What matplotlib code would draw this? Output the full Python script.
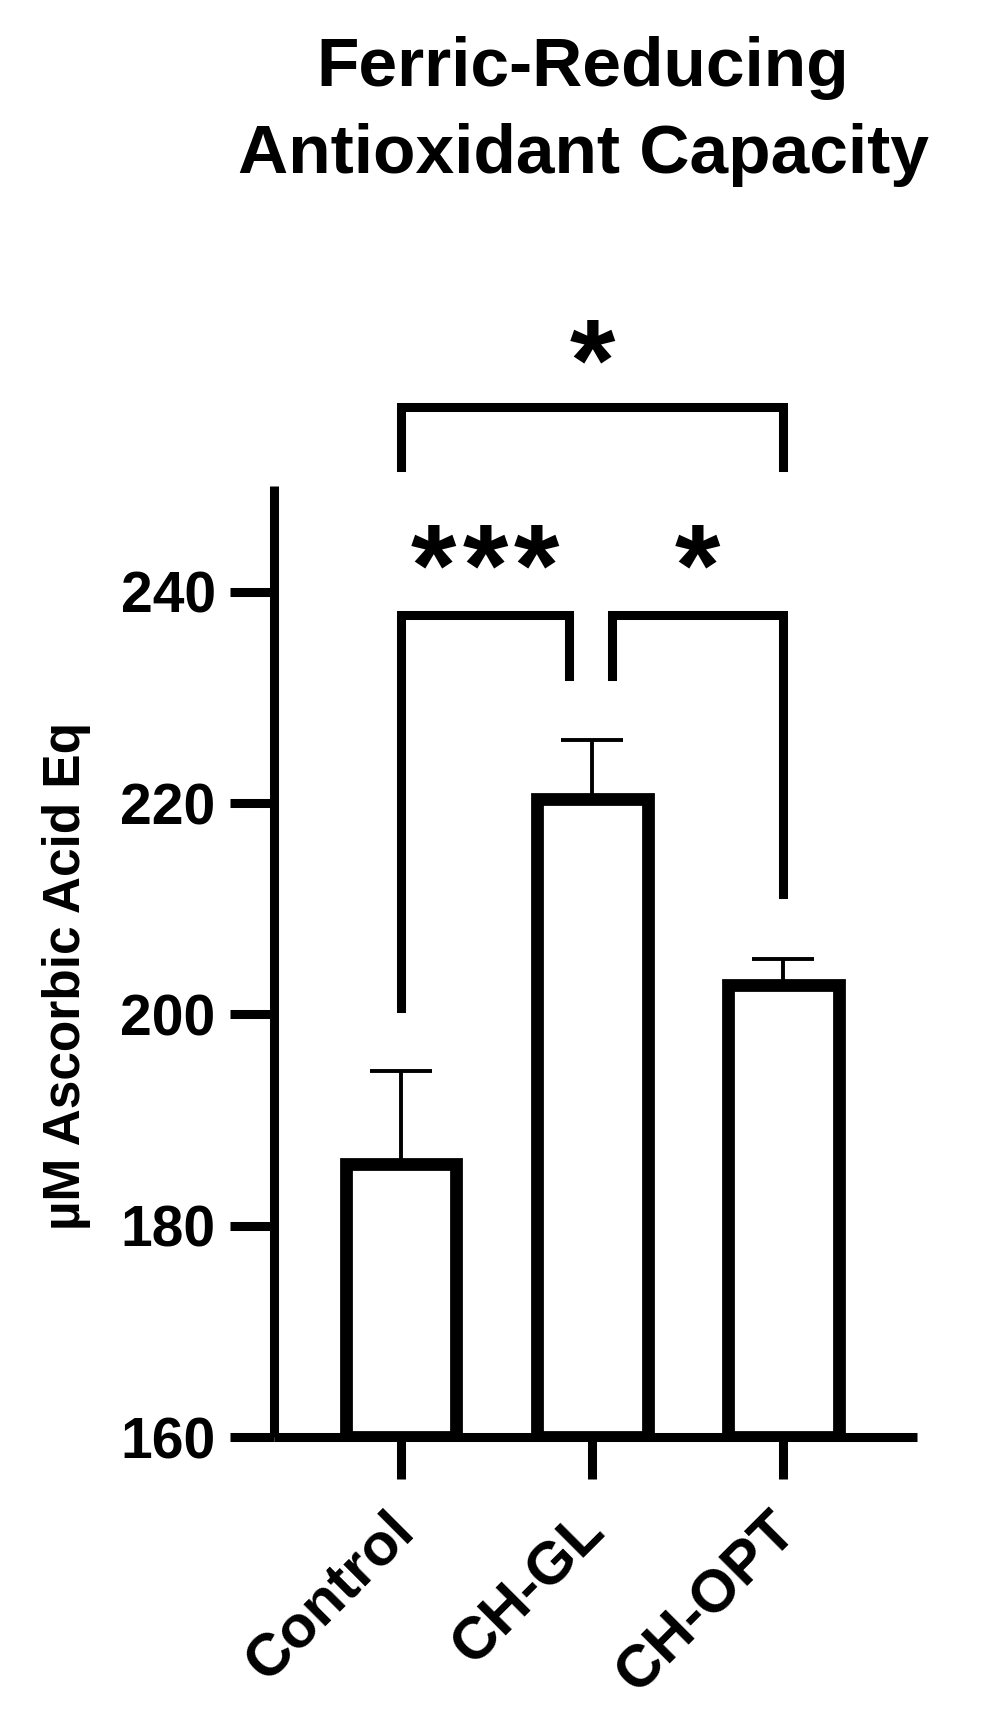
import numpy as np
import matplotlib.pyplot as plt

plt.rcParams["font.family"] = ["Liberation Sans", "DejaVu Sans"]
plt.rcParams["font.weight"] = "bold"

groups = ["Control", "CH-GL", "CH-OPT"]
means = [185.8, 220.4, 202.8]
sems = [8.8, 5.6, 2.4]

# significance brackets: left x, right x, bar height, left leg end, right leg end, stars
brk_x1 = [0.0, 1.105, 0.0]
brk_x2 = [0.88, 2.0, 2.0]
brk_y = [237.8, 237.8, 257.5]
brk_lo1 = [200.6, 232.0, 251.8]
brk_lo2 = [232.0, 211.4, 251.8]
brk_stars = [3, 1, 1]
brk_txt_y = [241.6, 241.6, 261.0]

W, H = 993, 1725
fig = plt.figure(figsize=(W / 100, H / 100), dpi=100)
ax = fig.add_axes([274 / W, 1 - 1437 / H, (917 - 274) / W, (1437 - 486) / H])

x = np.arange(len(groups))
ax.bar(x, np.array(means) - 160, bottom=160, width=0.58, color="white",
       edgecolor="black", linewidth=9.2, zorder=2)
ax.errorbar(x, means, yerr=[np.zeros(3), sems], fmt="none", ecolor="black",
            elinewidth=2.8, capsize=22, capthick=2.8, zorder=1)

ax.set_xlim(-0.665, 2.70)
ax.set_ylim(160, 250)
ax.set_yticks([160, 180, 200, 220, 240])
ax.set_xticks(x)
ax.set_xticklabels(groups, rotation=45, ha="right", va="center_baseline",
                   rotation_mode="anchor", fontsize=43, fontweight="bold")
ax.tick_params(axis="y", length=32, width=6.5, pad=10, labelsize=41)
ax.tick_params(axis="x", length=30, width=6.5, pad=28)
for s in ["top", "right"]:
    ax.spines[s].set_visible(False)
for s in ["left", "bottom"]:
    ax.spines[s].set_linewidth(6.5)
    ax.spines[s].set_capstyle("butt")

star_gap = 0.27  # spacing between stars in data units
for i in range(len(brk_stars)):
    ax.plot([brk_x1[i], brk_x1[i], brk_x2[i], brk_x2[i]],
            [brk_lo1[i], brk_y[i], brk_y[i], brk_lo2[i]],
            color="black", lw=6.5, clip_on=False, solid_joinstyle="miter")
    mid = (brk_x1[i] + brk_x2[i]) / 2
    n = brk_stars[i]
    for k in range(n):
        ax.text(mid + (k - (n - 1) / 2) * star_gap, brk_txt_y[i], "*",
                ha="center", va="center", fontsize=84, fontweight="bold",
                clip_on=False)

fig.text(67 / W, 1 - 976 / H, "µM Ascorbic Acid Eq", rotation=90,
         ha="center", va="center", fontsize=37, fontweight="bold")
fig.text(583 / W, 1 - 86 / H, "Ferric-Reducing", ha="center",
         va="baseline", fontsize=50, fontweight="bold")
fig.text(583 / W, 1 - 173 / H, "Antioxidant Capacity", ha="center",
         va="baseline", fontsize=50, fontweight="bold")

fig.savefig("out.png", dpi=100)
